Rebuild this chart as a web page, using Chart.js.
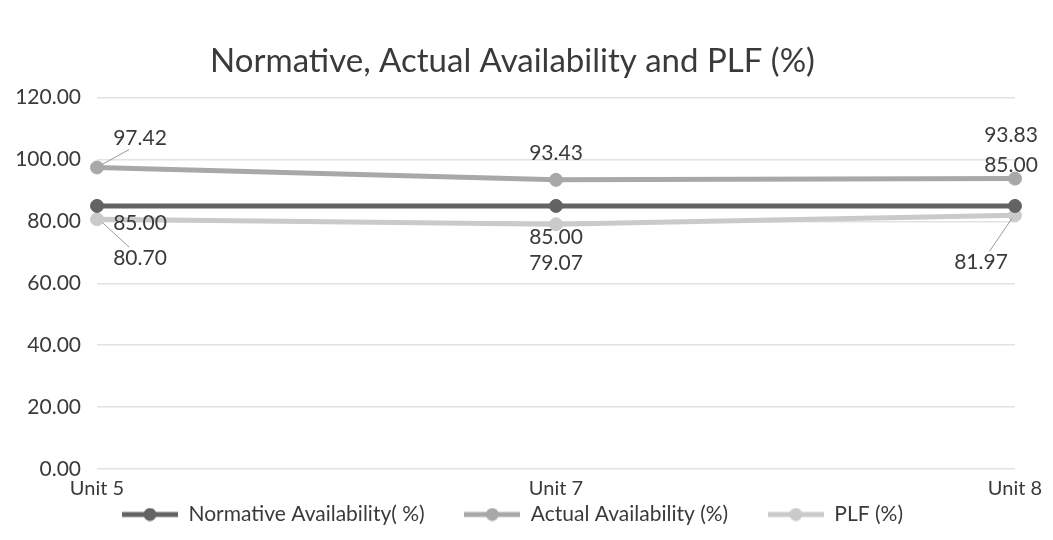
<!DOCTYPE html>
<html>
<head>
<meta charset="utf-8">
<script src="https://cdn.jsdelivr.net/npm/chart.js@4/dist/chart.umd.min.js"></script>
<style>
  html, body { margin: 0; padding: 0; background: #fff; }
  #wrap { width: 1053px; height: 540px; }
</style>
</head>
<body>
<div id="wrap"><canvas id="myChart" width="1053" height="540"></canvas></div>
<script>
// chart data
var units = ["Unit 5", "Unit 7", "Unit 8"];
var normative = [85.00, 85.00, 85.00];
var actual = [97.42, 93.43, 93.83];
var plf = [80.70, 79.07, 81.97];
var yTicks = [0, 20, 40, 60, 80, 100, 120];

// where each value label sits relative to its point (px)
var labelOffsets = {
  normative: [[43, 17], [0, 31], [-4, -41]],
  actual: [[43, -29], [0, -27], [-4, -43]],
  plf: [[43, 39], [0, 39], [-34, 47]]
};
var leaderLines = {
  actual: [true, false, false],
  plf: [true, false, true]
};

var FONT = "Lato, 'Open Sans', sans-serif";
var TEXT = "#3a3a3a";

function legendIcon(color) {
  var c = document.createElement("canvas");
  c.width = 56; c.height = 14;
  var g = c.getContext("2d");
  g.strokeStyle = color;
  g.lineWidth = 5;
  g.beginPath();
  g.moveTo(0, 7); g.lineTo(56, 7);
  g.stroke();
  g.fillStyle = color;
  g.beginPath();
  g.arc(28, 7, 6.5, 0, Math.PI * 2);
  g.fill();
  return c;
}

/** value labels next to every point, with a few leader lines */
var valueLabels = {
  id: "valueLabels",
  afterDatasetsDraw(chart) {
    var ctx = chart.ctx;
    ctx.save();
    ctx.font = "21px " + FONT;
    ctx.fillStyle = TEXT;
    ctx.textAlign = "center";
    ctx.textBaseline = "middle";
    chart.data.datasets.forEach((ds, i) => {
      var meta = chart.getDatasetMeta(i);
      meta.data.forEach((pt, j) => {
        var off = labelOffsets[ds.key][j];
        var lx = pt.x + off[0];
        var ly = pt.y + off[1];
        if (leaderLines[ds.key] && leaderLines[ds.key][j]) {
          var up = off[1] < 0;
          ctx.strokeStyle = "#9a9a9a";
          ctx.lineWidth = 1;
          ctx.beginPath();
          ctx.moveTo(pt.x + (off[0] > 0 ? 5 : -3), pt.y + (up ? -3 : 3));
          ctx.lineTo(lx - off[0] * 0.25, ly + (up ? 11 : -11));
          ctx.stroke();
        }
        ctx.fillText(ds.data[j].toFixed(2), lx, ly);
      });
    });
    ctx.restore();
  }
};

function makeSeries(key, label, data, color) {
  return {
    key: key,
    label: label,
    data: data,
    borderColor: color,
    backgroundColor: color,
    legendIcon: legendIcon(color)
  };
}

var chartOptions = {
  type: "line",
  data: {
    labels: units,
    datasets: [
      makeSeries("normative", "Normative Availability( %)", normative, "#636363"),
      makeSeries("actual", "Actual Availability (%)", actual, "#a8a8a8"),
      makeSeries("plf", "PLF (%)", plf, "#cacaca")
    ]
  },
  options: {
    responsive: false,
    animation: false,
    layout: { padding: { left: 10, right: 38, top: 8, bottom: 5 } },
    elements: {
      line: { borderWidth: 5, tension: 0 },
      point: { radius: 6.5, hoverRadius: 6.5, pointStyle: "circle" }
    },
    plugins: {
      title: {
        display: true,
        text: "Normative, Actual Availability and PLF (%)",
        color: TEXT,
        font: { family: FONT, size: 33, weight: "normal" },
        padding: { top: 34, bottom: 16 }
      },
      legend: {
        position: "bottom",
        labels: {
          usePointStyle: true,
          pointStyleWidth: 56,
          color: TEXT,
          font: { family: FONT, size: 21 },
          padding: 2,
          generateLabels(chart) {
            return chart.data.datasets.map((ds, i) => ({
              // trailing spaces keep the wide gaps between items
              text: ds.label + (i < 2 ? "       " : ""),
              pointStyle: ds.legendIcon,
              fillStyle: ds.borderColor,
              strokeStyle: ds.borderColor,
              fontColor: TEXT,
              lineWidth: 0,
              datasetIndex: i,
              hidden: false
            }));
          }
        }
      },
      tooltip: { enabled: false }
    },
    scales: {
      x: {
        offset: false,
        afterFit(scale) { scale.height = 33; },
        grid: { display: false, drawTicks: false },
        border: { display: false },
        ticks: {
          color: TEXT,
          font: { family: FONT, size: 20 },
          padding: 8
        }
      },
      y: {
        min: 0,
        max: 120,
        afterBuildTicks(scale) {
          scale.ticks = yTicks.map((v) => ({ value: v }));
        },
        afterFit(scale) { scale.width = 87; },
        grid: { color: "#e2e2e2", lineWidth: 1.5, drawTicks: false },
        border: { display: false },
        ticks: {
          color: TEXT,
          font: { family: FONT, size: 21 },
          padding: 16,
          callback: (v) => Number(v).toFixed(2)
        }
      }
    }
  },
  plugins: [valueLabels]
};

var chart = new Chart(document.getElementById("myChart"), chartOptions);
</script>
</body>
</html>
